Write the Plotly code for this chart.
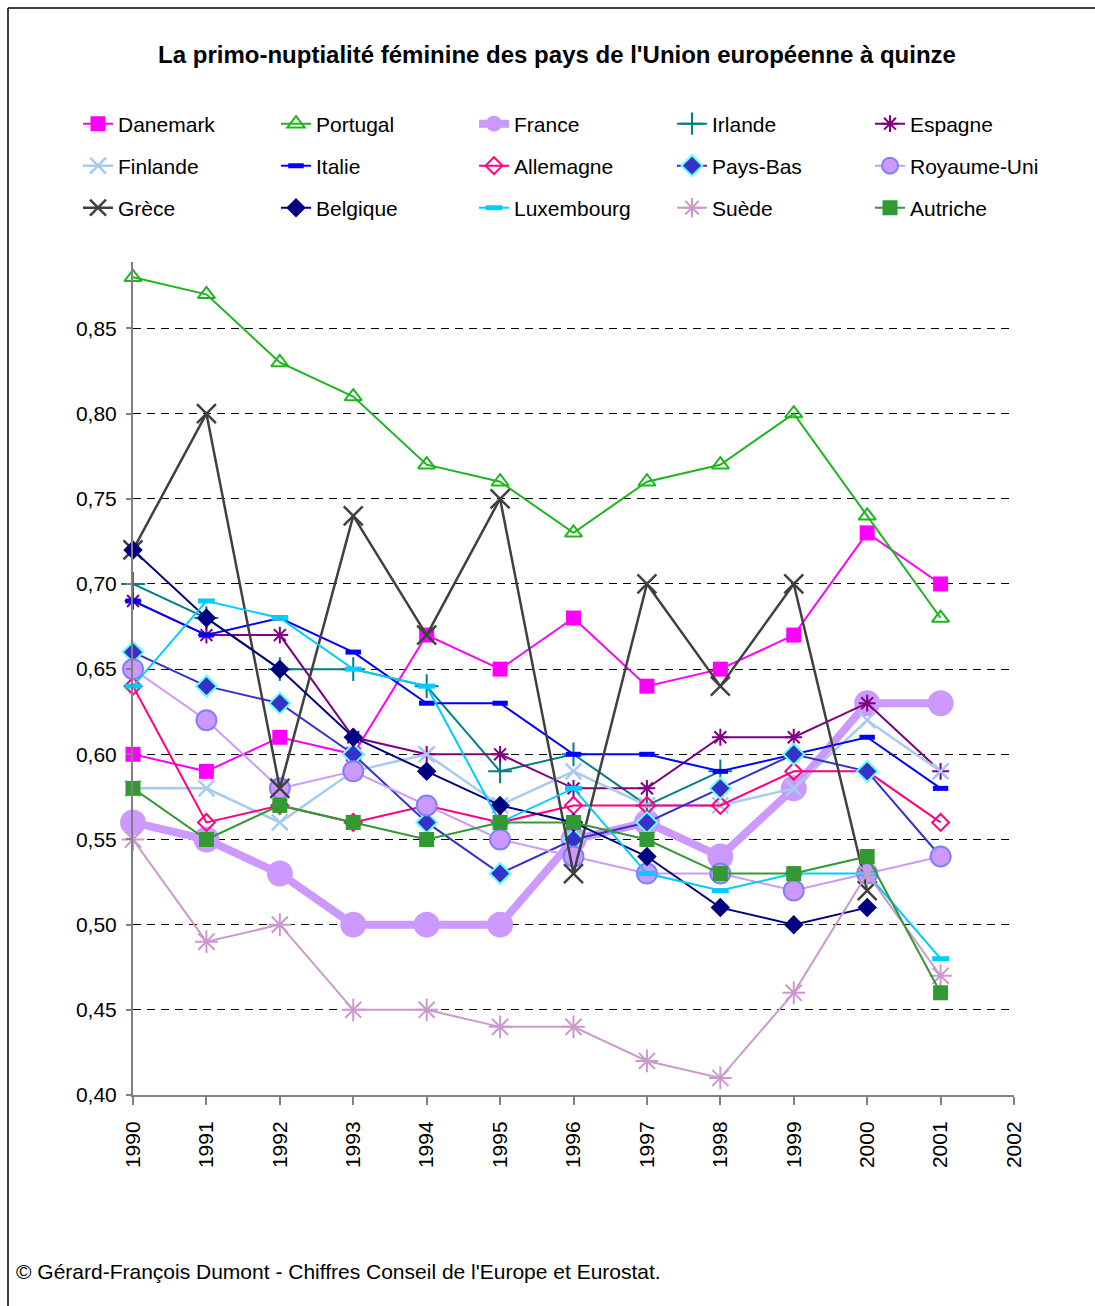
import plotly.graph_objects as go

# Années observées
years = list(range(1990, 2002))

# Indicateur de primo-nuptialité féminine par pays
danemark = [0.60, 0.59, 0.61, 0.60, 0.67, 0.65, 0.68, 0.64, 0.65, 0.67, 0.73, 0.70]
portugal = [0.88, 0.87, 0.83, 0.81, 0.77, 0.76, 0.73, 0.76, 0.77, 0.80, 0.74, 0.68]
france = [0.56, 0.55, 0.53, 0.50, 0.50, 0.50, 0.55, 0.56, 0.54, 0.58, 0.63, 0.63]
irlande = [0.70, 0.68, 0.65, 0.65, 0.64, 0.59, 0.60, 0.57, 0.59, None, None, None]
espagne = [0.69, 0.67, 0.67, 0.61, 0.60, 0.60, 0.58, 0.58, 0.61, 0.61, 0.63, 0.59]
finlande = [0.58, 0.58, 0.56, 0.59, 0.60, 0.57, 0.59, 0.57, 0.57, 0.58, 0.62, 0.59]
italie = [0.69, 0.67, 0.68, 0.66, 0.63, 0.63, 0.60, 0.60, 0.59, 0.60, 0.61, 0.58]
allemagne = [0.64, 0.56, 0.57, 0.56, 0.57, 0.56, 0.57, 0.57, 0.57, 0.59, 0.59, 0.56]
pays_bas = [0.66, 0.64, 0.63, 0.60, 0.56, 0.53, 0.55, 0.56, 0.58, 0.60, 0.59, 0.54]
royaume_uni = [0.65, 0.62, 0.58, 0.59, 0.57, 0.55, 0.54, 0.53, 0.53, 0.52, 0.53, 0.54]
grece = [0.72, 0.80, 0.58, 0.74, 0.67, 0.75, 0.53, 0.70, 0.64, 0.70, 0.52, None]
belgique = [0.72, 0.68, 0.65, 0.61, 0.59, 0.57, 0.56, 0.54, 0.51, 0.50, 0.51, None]
luxembourg = [0.64, 0.69, 0.68, 0.65, 0.64, 0.56, 0.58, 0.53, 0.52, 0.53, 0.53, 0.48]
suede = [0.55, 0.49, 0.50, 0.45, 0.45, 0.44, 0.44, 0.42, 0.41, 0.46, 0.53, 0.47]
autriche = [0.58, 0.55, 0.57, 0.56, 0.55, 0.56, 0.56, 0.55, 0.53, 0.53, 0.54, 0.46]

year_ticks = list(range(1990, 2003))
value_ticks = [0.40, 0.45, 0.50, 0.55, 0.60, 0.65, 0.70, 0.75, 0.80, 0.85]

FONT = "Liberation Sans, Arial, sans-serif"

# (nom, valeurs, couleur de ligne, épaisseur, symbole, taille, remplissage, contour, épaisseur contour, légende)
series = [
    ("Danemark", danemark, "#FF00FF", 2, "square", 15, "#FF00FF", "#FF00FF", 0, "legend"),
    ("Portugal", portugal, "#1FB51F", 2, "triangle-up-open", 15, "#1FB51F", "#1FB51F", 2, "legend"),
    ("France", france, "#CC99FF", 8, "circle", 26, "#CC99FF", "#CC99FF", 0, "legend"),
    ("Irlande", irlande, "#008080", 2, "cross-thin-open", 17, "#008080", "#008080", 2, "legend"),
    ("Espagne", espagne, "#800080", 2, "asterisk-open", 14, "#800080", "#800080", 2, "legend"),
    ("Finlande", finlande, "#A6CAF0", 2.5, "x-thin-open", 16, "#A6CAF0", "#A6CAF0", 2.5, "legend2"),
    ("Italie", italie, "#0000FF", 2, "line-ew-open", 11, "#0000FF", "#0000FF", 5, "legend2"),
    ("Allemagne", allemagne, "#FF0080", 2, "diamond-open", 13, "#FF0080", "#FF0080", 2, "legend2"),
    ("Pays-Bas", pays_bas, "#3333CC", 2, "diamond", 16, "#3333CC", "#66FFFF", 2, "legend2"),
    ("Royaume-Uni", royaume_uni, "#CC99FF", 2, "circle", 20, "#CC99FF", "#8080FF", 2, "legend2"),
    ("Grèce", grece, "#404040", 2.5, "x-thin-open", 19, "#404040", "#404040", 2.5, "legend3"),
    ("Belgique", belgique, "#000080", 2, "diamond", 15, "#000080", "#000080", 0, "legend3"),
    ("Luxembourg", luxembourg, "#00CCFF", 2, "line-ew-open", 12, "#00CCFF", "#00CCFF", 5, "legend3"),
    ("Suède", suede, "#CC99CC", 2, "asterisk-open", 19, "#CC99CC", "#CC99CC", 2, "legend3"),
    ("Autriche", autriche, "#339933", 2, "square", 15, "#339933", "#339933", 0, "legend3"),
]

fig = go.Figure()
for name, vals, col, lw, sym, size, fill, edge, ew, leg in series:
    fig.add_trace(go.Scatter(
        x=years, y=vals, name=name, mode="lines+markers",
        line=dict(color=col, width=lw),
        marker=dict(symbol=sym, size=size, color=fill,
                    line=dict(color=edge, width=ew)),
        legend=leg, cliponaxis=False,
    ))

W, H = 1095, 1306
L, R, T, B = 133, 81, 262, 211
PW, PH = W - L - R, H - T - B


def px_x(px):
    """Pixel horizontal -> coordonnée paper."""
    return (px - L) / PW


def px_y(py):
    """Pixel vertical -> coordonnée paper."""
    return (H - B - py) / PH


legend_common = dict(
    orientation="h", xref="paper", yref="paper",
    x=px_x(78), xanchor="left", yanchor="middle",
    entrywidth=153, entrywidthmode="pixels",
    font=dict(family=FONT, size=21, color="black"),
    bgcolor="rgba(0,0,0,0)", itemclick=False, itemdoubleclick=False,
    traceorder="normal",
)

fig.update_layout(
    width=W, height=H,
    margin=dict(l=L, r=R, t=T, b=B),
    paper_bgcolor="white", plot_bgcolor="white",
    separators=", ",
    showlegend=True,
    title=dict(
        text="<b>La primo-nuptialité féminine des pays de l'Union européenne à quinze</b>",
        x=557 / W, xanchor="center", xref="container",
        y=1 - 55 / H, yanchor="middle", yref="container",
        font=dict(family=FONT, size=24, color="black"),
    ),
    legend=dict(legend_common, y=px_y(124)),
    legend2=dict(legend_common, y=px_y(166)),
    legend3=dict(legend_common, y=px_y(208)),
    xaxis=dict(
        range=[1990, 2002], tickvals=year_ticks,
        ticktext=[str(y) for y in year_ticks],
        tickangle=-90, ticks="outside", ticklen=8, tickcolor="#808080",
        tickwidth=1.5, ticklabelstandoff=8,
        showline=True, linecolor="#808080", linewidth=2,
        showgrid=False, zeroline=False,
        tickfont=dict(family=FONT, size=21, color="black"),
    ),
    yaxis=dict(
        range=[0.40, 0.889], tickvals=value_ticks, tickformat=".2f",
        ticks="outside", ticklen=5, tickcolor="#808080", tickwidth=1.5,
        ticklabelstandoff=5,
        showline=True, linecolor="#808080", linewidth=2,
        showgrid=True, gridcolor="black", gridwidth=1, griddash="8px,6px",
        zeroline=False,
        tickfont=dict(family=FONT, size=21, color="black"),
    ),
)

# Cadre du graphique (bord supérieur et gauche)
fig.add_shape(type="line", xref="paper", yref="paper",
              x0=px_x(8), x1=px_x(1100), y0=px_y(8), y1=px_y(8),
              line=dict(color="black", width=1.5))
fig.add_shape(type="line", xref="paper", yref="paper",
              x0=px_x(8), x1=px_x(8), y0=px_y(8), y1=px_y(1310),
              line=dict(color="black", width=1.5))

fig.add_annotation(
    text="© Gérard-François Dumont - Chiffres Conseil de l'Europe et Eurostat.",
    xref="paper", yref="paper", x=px_x(14), y=px_y(1271),
    xanchor="left", yanchor="middle", showarrow=False,
    font=dict(family=FONT, size=21, color="black"),
)

fig.write_html("out.html")
